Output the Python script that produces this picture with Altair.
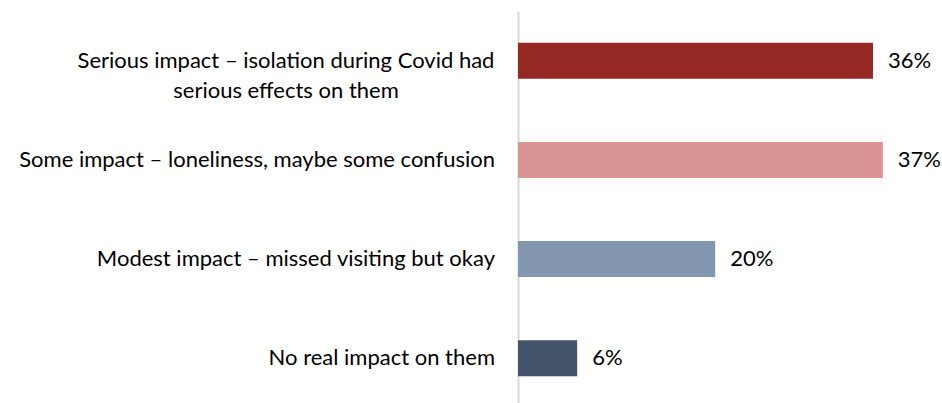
import altair as alt
import pandas as pd

categories = [
    "Serious impact – isolation during Covid had serious effects on them",
    "Some impact – loneliness, maybe some confusion",
    "Modest impact – missed visiting but okay",
    "No real impact on them",
]
label_lines = [
    ["Serious impact – isolation during Covid had", "serious effects on them"],
    ["Some impact – loneliness, maybe some confusion"],
    ["Modest impact – missed visiting but okay"],
    ["No real impact on them"],
]
values = [36, 37, 20, 6]
colors = ["#952823", "#D99594", "#8497B0", "#44546A"]

df = pd.DataFrame({
    "cat": categories,
    "lines": label_lines,
    "value": values,
    "multi": [len(l) > 1 for l in label_lines],
    "pct": [f"{v}%" for v in values],
})

FONT = "Lato"
FS = 22

y = alt.Y("cat:N", sort=categories,
          scale=alt.Scale(paddingInner=0.635, paddingOuter=0.32),
          axis=alt.Axis(title=None, labels=False, ticks=False, domain=True,
                        domainColor="#D9D9D9", domainWidth=2))

base = alt.Chart(df).encode(y=y)

bars = base.mark_bar(size=36).encode(
    x=alt.X("value:Q", scale=alt.Scale(domain=[0, 43], nice=False), axis=None),
    color=alt.Color("cat:N", sort=categories,
                    scale=alt.Scale(domain=categories, range=colors), legend=None),
)

pct = base.mark_text(align="left", baseline="middle", dx=15, font=FONT,
                     fontSize=FS, color="#000000").encode(
    x=alt.X("value:Q"), text="pct:N")

labels_right = base.transform_filter("!datum.multi").mark_text(
    align="right", baseline="middle", font=FONT, fontSize=FS, color="#000000"
).encode(x=alt.value(-23), text="lines")

labels_center = base.transform_filter("datum.multi").mark_text(
    align="center", baseline="middle", font=FONT, fontSize=FS, color="#000000",
    lineHeight=30
).encode(x=alt.value(-232), text="lines")

chart = alt.layer(bars, pct, labels_right, labels_center).properties(
    width=424, height=397,
    padding={"left": 518, "top": 11, "right": 0, "bottom": 0},
    autosize=alt.AutoSizeParams(type="none"),
).configure_view(stroke=None)

chart.save("out.html", embed_options={"renderer": "svg", "actions": False})
